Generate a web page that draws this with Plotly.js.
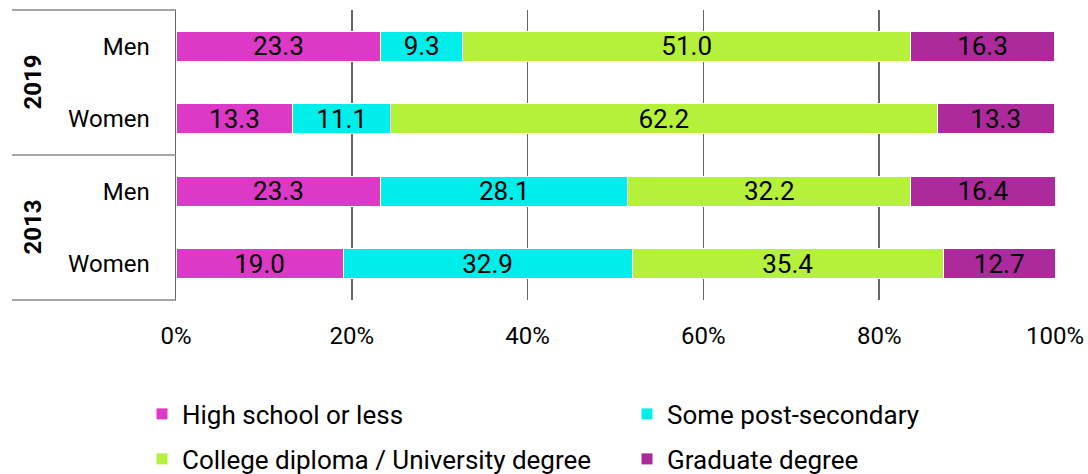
<!DOCTYPE html>
<html>
<head>
<meta charset="utf-8">
<script src="https://cdn.plot.ly/plotly-3.0.1.min.js"></script>
<style>html,body{margin:0;padding:0;background:#fff;}#chart{width:1088px;height:474px;}</style>
</head>
<body>
<div id="chart"></div>
<script>
const categories = ["2019 Men", "2019 Women", "2013 Men", "2013 Women"];
const genderLabels = ["Men", "Women", "Men", "Women"];
const years = ["2019", "2013"];
const seriesNames = ["High school or less", "Some post-secondary", "College diploma / University degree", "Graduate degree"];
const highSchool = [23.3, 13.3, 23.3, 19.0];
const somePost = [9.3, 11.1, 28.1, 32.9];
const college = [51.0, 62.2, 32.2, 35.4];
const graduate = [16.3, 13.3, 16.4, 12.7];
const colors = ["#DB39C6", "#00EEEA", "#B5F03A", "#AC2A9B"];
const xTickVals = [0, 20, 40, 60, 80, 100];
const xTickText = ["0%", "20%", "40%", "60%", "80%", "100%"];

const FONT = "Roboto, 'Noto Sans', sans-serif";
const FS = 24;
const allSeries = [highSchool, somePost, college, graduate];
const legendIds = ["legend", "legend2", "legend3", "legend4"];

const traces = allSeries.map((vals, i) => ({
  type: "bar",
  orientation: "h",
  name: seriesNames[i],
  x: vals,
  y: categories,
  text: vals.map(v => v.toFixed(1)),
  textposition: "inside",
  insidetextanchor: "middle",
  constraintext: "none",
  textfont: {family: FONT, size: 26, color: "#000"},
  marker: {color: colors[i], line: {color: "#fff", width: 1}},
  legend: legendIds[i],
  hoverinfo: "skip"
}));

const shapes = [
  {type: "line", xref: "paper", yref: "paper", x0: -0.1866, x1: 0, y0: 1, y1: 1, line: {color: "#888", width: 1.5}},
  {type: "line", xref: "paper", yref: "paper", x0: -0.1866, x1: 0, y0: 0.5, y1: 0.5, line: {color: "#888", width: 1.5}},
  {type: "line", xref: "paper", yref: "paper", x0: -0.1866, x1: 0, y0: 0, y1: 0, line: {color: "#888", width: 1.5}}
];

const annotations = years.map((yr, i) => ({
  xref: "paper", yref: "paper",
  x: -0.1638, y: i === 0 ? 0.75 : 0.25,
  text: "<b>" + yr + "</b>",
  textangle: -90,
  showarrow: false,
  font: {family: FONT, size: FS, color: "#000"},
  xanchor: "center", yanchor: "middle"
}));

function mkLegend(xpx, ypx) {
  return {
    orientation: "h",
    xref: "container", yref: "container",
    xanchor: "left", yanchor: "middle",
    x: xpx / 1088, y: 1 - ypx / 474,
    itemwidth: 30,
    font: {family: FONT, size: 26, color: "#000"},
    bgcolor: "rgba(0,0,0,0)",
    borderwidth: 0
  };
}

const layout = {
  width: 1088, height: 474,
  margin: {l: 176, r: 33, t: 10, b: 174},
  paper_bgcolor: "#fff", plot_bgcolor: "#fff",
  barmode: "stack",
  bargap: 0.59,
  font: {family: FONT, size: FS, color: "#000"},
  showlegend: true,
  legend: mkLegend(142, 414),
  legend2: mkLegend(627, 414),
  legend3: mkLegend(142, 459),
  legend4: mkLegend(627, 459),
  xaxis: {
    range: [0, 100],
    tickvals: xTickVals,
    ticktext: xTickText,
    showgrid: true, gridcolor: "#666", gridwidth: 1.5,
    zeroline: false,
    showline: false,
    ticks: "outside", ticklen: 14, tickcolor: "rgba(0,0,0,0)",
    tickfont: {family: FONT, size: FS, color: "#000"},
    fixedrange: true
  },
  yaxis: {
    type: "category",
    categoryorder: "array",
    categoryarray: categories,
    tickvals: categories,
    ticktext: genderLabels,
    autorange: "reversed",
    showgrid: false,
    zeroline: false,
    showline: true, linecolor: "#666", linewidth: 1.5,
    ticks: "outside", ticklen: 20, tickcolor: "rgba(0,0,0,0)",
    tickfont: {family: FONT, size: FS, color: "#000"},
    fixedrange: true
  },
  shapes: shapes,
  annotations: annotations
};

Plotly.newPlot("chart", traces, layout, {displayModeBar: false, staticPlot: true});
</script>
</body>
</html>
